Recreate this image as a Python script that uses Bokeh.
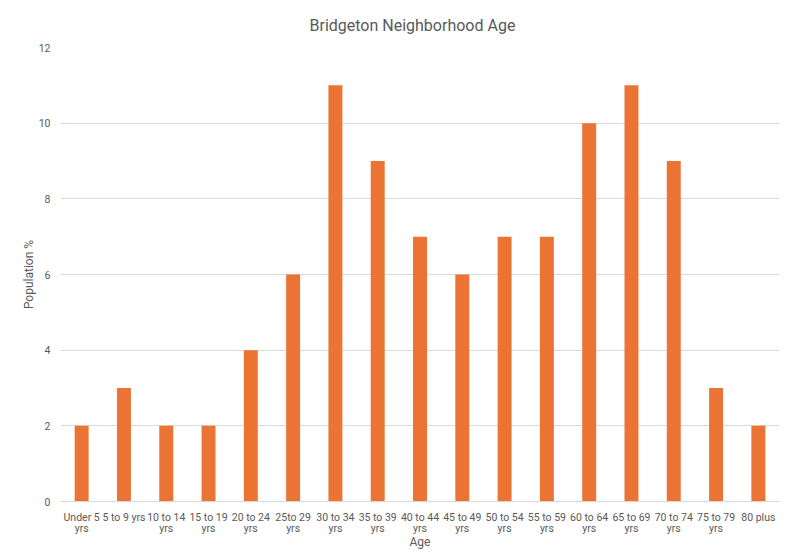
from bokeh.plotting import figure
from bokeh.models import Title
from bokeh.embed import file_html
from bokeh.resources import INLINE

categories = ["Under 5 yrs", "5 to 9 yrs", "10 to 14 yrs", "15 to 19 yrs", "20 to 24 yrs",
              "25to 29 yrs", "30 to 34 yrs", "35 to 39 yrs", "40 to 44 yrs", "45 to 49 yrs",
              "50 to 54 yrs", "55 to 59 yrs", "60 to 64 yrs", "65 to 69 yrs", "70 to 74 yrs",
              "75 to 79 yrs", "80 plus"]
tick_labels = ["Under 5\nyrs", "5 to 9 yrs", "10 to 14\nyrs", "15 to 19\nyrs", "20 to 24\nyrs",
               "25to 29\nyrs", "30 to 34\nyrs", "35 to 39\nyrs", "40 to 44\nyrs", "45 to 49\nyrs",
               "50 to 54\nyrs", "55 to 59\nyrs", "60 to 64\nyrs", "65 to 69\nyrs", "70 to 74\nyrs",
               "75 to 79\nyrs", "80 plus"]
population = [2, 3, 2, 2, 4, 6, 11, 9, 7, 6, 7, 7, 10, 11, 9, 3, 2]
y_ticks = [0, 2, 4, 6, 8, 10, 12]

FONT = "Roboto"
GRAY = "#595959"
GRID = "#d9d9d9"

p = figure(x_range=tick_labels, y_range=(0, 12), width=788, height=556,
           output_backend="svg", toolbar_location=None,
           min_border_left=60, min_border_right=9, min_border_top=47, min_border_bottom=55)
p.title = None
p.add_layout(Title(text="Bridgeton Neighborhood Age", align="left", offset=249, standoff=25,
                   text_font=FONT, text_font_size="16px", text_font_style="normal",
                   text_color=GRAY), "above")

p.vbar(x=tick_labels, top=population, width=0.33, color="#EB7333", line_color=None)

p.outline_line_color = None
p.background_fill_color = "white"
p.border_fill_color = "white"

p.xgrid.grid_line_color = None
p.ygrid.grid_line_color = GRID
p.ygrid.ticker = y_ticks

p.yaxis.ticker = y_ticks
p.yaxis.axis_line_color = None
p.yaxis.major_tick_line_color = None
p.yaxis.minor_tick_line_color = None
p.yaxis.major_tick_out = 0
p.yaxis.major_label_standoff = 10
p.yaxis.axis_label = "Population %"
p.yaxis.axis_label_standoff = 0

p.xaxis.axis_line_color = GRID
p.xaxis.major_tick_line_color = None
p.xaxis.minor_tick_line_color = None
p.xaxis.major_tick_out = 0
p.xaxis.major_label_standoff = 9
p.xaxis.major_label_text_line_height = 0.85
p.xaxis.axis_label = "Age"
p.xaxis.axis_label_standoff = -3

for ax in (p.xaxis[0], p.yaxis[0]):
    ax.major_label_text_font = FONT
    ax.major_label_text_font_size = "10.5px"
    ax.major_label_text_color = GRAY
    ax.axis_label_text_font = FONT
    ax.axis_label_text_font_size = "12px"
    ax.axis_label_text_font_style = "normal"
    ax.axis_label_text_color = GRAY

open("out.html", "w").write(file_html(p, INLINE))
